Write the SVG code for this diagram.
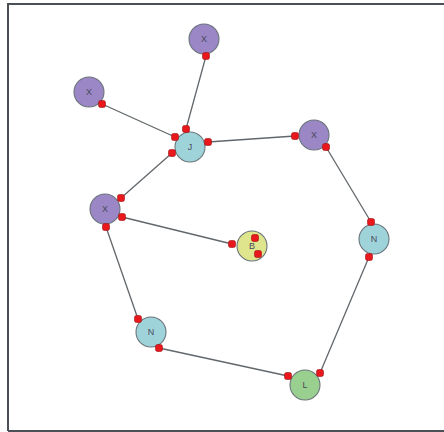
<svg xmlns="http://www.w3.org/2000/svg" width="444" height="432" viewBox="0 0 444 432">
<style>
.n{stroke:#6a747a;stroke-width:1.1}
.x{fill:#9b86c6}
.t{fill:#9ed3da}
.y{fill:#dfe58d}
.g{fill:#99d08f}
.lbl{font-family:"Liberation Sans",Arial,sans-serif;font-size:9px;fill:#4a4a5a;text-anchor:middle;dominant-baseline:central}
.e{stroke:#62676b;stroke-width:1.3;fill:none}
.p{fill:#e8181c;stroke:#9a1010;stroke-width:0.6}
</style>
<rect x="0" y="0" width="444" height="432" fill="#ffffff"/>
<path d="M8 431 V4 H444" fill="none" stroke="#4a5056" stroke-width="2"/>
<line x1="8" y1="431" x2="444" y2="431" stroke="#4a5056" stroke-width="2"/>
<g id="connectors">
<line class="e" x1="206" y1="56" x2="186" y2="129"/>
<line class="e" x1="102" y1="104" x2="175" y2="137"/>
<line class="e" x1="208" y1="142" x2="295" y2="136"/>
<line class="e" x1="172" y1="153" x2="121" y2="198"/>
<line class="e" x1="122" y1="217" x2="232" y2="244"/>
<line class="e" x1="106" y1="227" x2="138" y2="319"/>
<line class="e" x1="159" y1="348" x2="288" y2="376"/>
<line class="e" x1="320" y1="373" x2="369" y2="257"/>
<line class="e" x1="371" y1="222" x2="326" y2="147"/>
</g>
<g id="n1"><circle class="n x" cx="204" cy="39" r="15"/><text class="lbl" x="204" y="39">X</text><rect class="p" x="202.5" y="52.5" width="7" height="7" rx="2"/></g>
<g id="n2"><circle class="n x" cx="89" cy="92" r="15"/><text class="lbl" x="89" y="92">X</text><rect class="p" x="98.5" y="100.5" width="7" height="7" rx="2"/></g>
<g id="n3"><circle class="n t" cx="190" cy="147" r="15"/><text class="lbl" x="190" y="147">J</text>
<rect class="p" x="182.5" y="125.5" width="7" height="7" rx="2"/>
<rect class="p" x="171.5" y="133.5" width="7" height="7" rx="2"/>
<rect class="p" x="204.5" y="138.5" width="7" height="7" rx="2"/>
<rect class="p" x="168.5" y="149.5" width="7" height="7" rx="2"/></g>
<g id="n4"><circle class="n x" cx="314" cy="135" r="15"/><text class="lbl" x="314" y="135">X</text>
<rect class="p" x="291.5" y="132.5" width="7" height="7" rx="2"/>
<rect class="p" x="322.5" y="143.5" width="7" height="7" rx="2"/></g>
<g id="n5"><circle class="n x" cx="105" cy="209" r="15"/><text class="lbl" x="105" y="209">X</text>
<rect class="p" x="117.5" y="194.5" width="7" height="7" rx="2"/>
<rect class="p" x="118.5" y="213.5" width="7" height="7" rx="2"/>
<rect class="p" x="102.5" y="223.5" width="7" height="7" rx="2"/></g>
<g id="n6"><circle class="n y" cx="252" cy="246" r="15"/><text class="lbl" x="252" y="246">B</text>
<rect class="p" x="228.5" y="240.5" width="7" height="7" rx="2"/>
<rect class="p" x="251.5" y="234.5" width="7" height="7" rx="2"/>
<rect class="p" x="254.5" y="250.5" width="7" height="7" rx="2"/></g>
<g id="n7"><circle class="n t" cx="374" cy="239" r="15"/><text class="lbl" x="374" y="239">N</text>
<rect class="p" x="367.5" y="218.5" width="7" height="7" rx="2"/>
<rect class="p" x="365.5" y="253.5" width="7" height="7" rx="2"/></g>
<g id="n8"><circle class="n t" cx="151" cy="332" r="15"/><text class="lbl" x="151" y="332">N</text>
<rect class="p" x="134.5" y="315.5" width="7" height="7" rx="2"/>
<rect class="p" x="155.5" y="344.5" width="7" height="7" rx="2"/></g>
<g id="n9"><circle class="n g" cx="305" cy="385" r="15"/><text class="lbl" x="305" y="385">L</text>
<rect class="p" x="284.5" y="372.5" width="7" height="7" rx="2"/>
<rect class="p" x="316.5" y="369.5" width="7" height="7" rx="2"/></g>
</svg>
